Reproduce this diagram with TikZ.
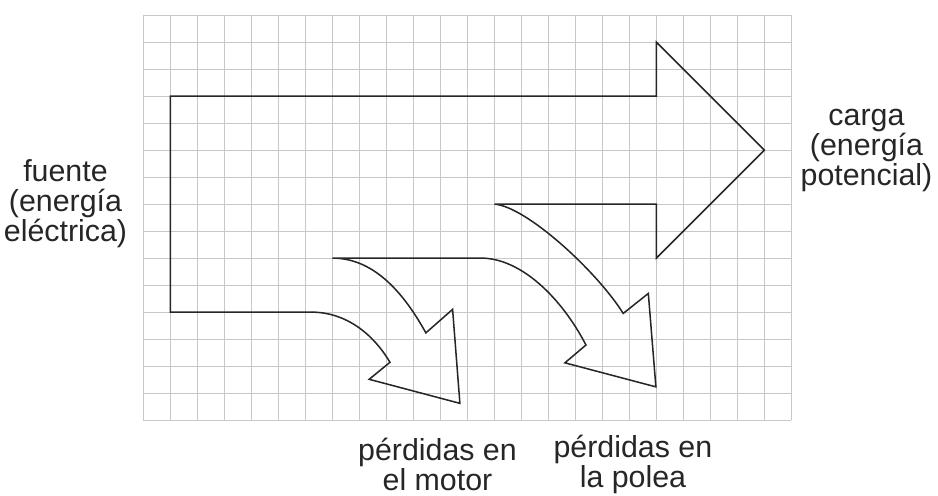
\documentclass[tikz,border=0pt]{standalone}
\usepackage{fontspec}
\setmainfont{Liberation Sans}

\begin{document}
\begin{tikzpicture}[x=0.5cm,y=0.5cm,line join=miter,
    grid line/.style={draw=black!22,line width=0.5pt,step=0.5cm},
    flow/.style={draw=black!85,line width=0.8pt},
    label node/.style={align=center,text=black!85,font=\fontsize{16}{15.8}\selectfont}]
                \useasboundingbox (-5.315,-2.78) rectangle (29.43,15.56);
                \draw[grid line] (0,0) grid (24,15);

                \draw[flow] (1,12) -- (19,12) -- (19,14) -- (23,10) -- (19,6) -- (19,8) -- (13,8)
                    .. controls (14.2,7.9) and (16.8,5.5) .. (17.77,3.95)
                    -- (18.7,4.69) -- (18.98,1.23) -- (15.61,2.12) -- (16.39,2.78)
                    .. controls (15.5,4.5) and (14,6) .. (12.5,6) -- (7,6)
                    .. controls (8.6,6) and (9.7,4.6) .. (10.46,3.23)
                    -- (11.45,4.1) -- (11.72,0.62) -- (8.36,1.51) -- (9.13,2.14)
                    .. controls (8.5,3.2) and (7.5,4) .. (6.2,4) -- (1,4) -- cycle;

                \node[label node] (fuente) at (-2.89,8) {fuente\\(energía\\eléctrica)};
                \node[label node] (carga) at (26.78,10) {carga\\(energía\\potencial)};
                \node[label node] (motor) at (10.89,-1.65) {pérdidas en\\el motor};
                \node[label node] (polea) at (18.13,-1.65) {pérdidas en\\la polea};
            \end{tikzpicture}
\end{document}
